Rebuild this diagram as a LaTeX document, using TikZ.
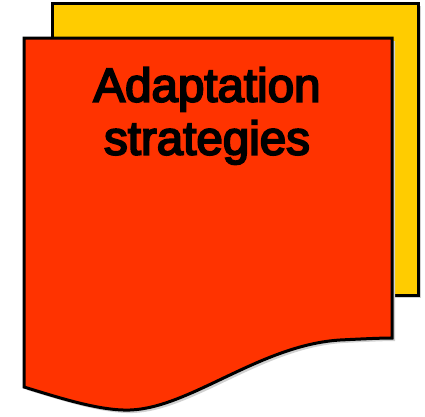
\documentclass[tikz,border=0pt]{standalone}
\usepackage{fontspec}
\newfontfamily\labelfont[FakeBold=4]{Liberation Sans}
\definecolor{sheetyellow}{HTML}{FFCC00}
\definecolor{sheetred}{HTML}{FF3300}

\begin{document}
\begin{tikzpicture}[x=1pt, y=-1pt,
sheet/.style={draw=black, line width=3pt, line join=miter},
shade/.style={fill=black!18, draw=none},
title/.style={font=\labelfont\fontsize{47.5}{53}\selectfont, align=center, inner sep=0pt, text=black}
]
    \useasboundingbox (0,0) rectangle (425,416);

    % back sheet with its shadow
    \fill[shade] (55,6) rectangle (421,298);
    \draw[sheet, fill=sheetyellow] (52,3) rectangle (418,295);

    % front sheet, wavy lower edge
    \fill[shade, shift={(3,3)}] (24,38) -- (392,38) -- (392,338)
        .. controls (380,338) and (360,339) .. (340,340)
        .. controls (260,345) and (190,408) .. (130,410)
        .. controls (100,411) and (60,398) .. (24,387) -- cycle;
    \draw[sheet, fill=sheetred] (24,38) -- (392,38) -- (392,338)
        .. controls (380,338) and (360,339) .. (340,340)
        .. controls (260,345) and (190,408) .. (130,410)
        .. controls (100,411) and (60,398) .. (24,387) -- cycle;

    \node [title, anchor=north] (label) at (207,67) {Adaptation\\strategies};
\end{tikzpicture}
\end{document}
